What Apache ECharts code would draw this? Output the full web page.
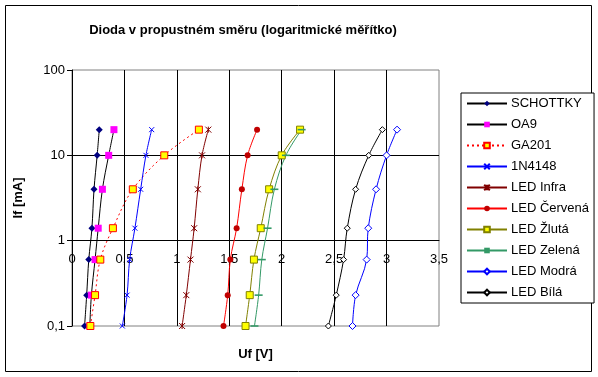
<!DOCTYPE html>
<html>
<head>
<meta charset="utf-8">
<script src="https://cdn.jsdelivr.net/npm/echarts@6/dist/echarts.min.js"></script>
<style>
  html, body { margin: 0; padding: 0; background: #fff; }
  #chart { width: 598px; height: 377px; }
</style>
</head>
<body>
<div id="chart"></div>
<script>
// proud If [mA] - stejne body pro vsechny diody
const proud = [0.1, 0.23, 0.6, 1.4, 4, 10, 20]

// napeti Uf [V]
const schottky = [0.12, 0.14, 0.16, 0.19, 0.21, 0.24, 0.26]
const oa9 = [0.17, 0.185, 0.22, 0.25, 0.29, 0.35, 0.4]
const ga201 = [0.175, 0.22, 0.27, 0.39, 0.58, 0.88, 1.21]
const n4148 = [0.48, 0.525, 0.55, 0.6, 0.655, 0.705, 0.76]
const ledInfra = [1.05, 1.09, 1.13, 1.165, 1.2, 1.24, 1.3]
const ledCervena = [1.445, 1.485, 1.51, 1.57, 1.62, 1.675, 1.765]
const ledZluta = [1.655, 1.695, 1.735, 1.8, 1.88, 2.0, 2.175]
const ledZelena = [1.74, 1.78, 1.81, 1.865, 1.93, 2.04, 2.19]
const ledModra = [2.675, 2.705, 2.81, 2.825, 2.9, 3.0, 3.1]
const ledBila = [2.445, 2.52, 2.59, 2.625, 2.705, 2.83, 2.96]

const xTicks = [0, 0.5, 1, 1.5, 2, 2.5, 3, 3.5]

const FONT = '"Liberation Sans", Arial, sans-serif'
const grid = { left: 72, top: 70, width: 367, height: 256 }

function pary(napeti) {
  return napeti.map((u, i) => [u, proud[i]])
}

function carka(v) {
  return String(v).replace('.', ',')
}

// jedna rada grafu
function rada(name, data, line, sym) {
  return {
    name: name,
    type: 'line',
    smooth: 0.35,
    data: pary(data),
    symbol: sym.symbol,
    symbolSize: sym.size,
    symbolKeepAspect: !!sym.keep,
    lineStyle: { color: line, width: 1, type: sym.dash || 'solid' },
    itemStyle: {
      color: sym.fill,
      borderColor: sym.border || sym.fill,
      borderWidth: sym.borderWidth == null ? 1 : sym.borderWidth,
    },
    emphasis: { disabled: true },
    z: 3,
  }
}

const chart = echarts.init(document.getElementById('chart'), null, { renderer: 'canvas' })

chart.setOption({
  animation: false,
  backgroundColor: '#fff',
  title: {
    text: 'Dioda v propustném směru (logaritmické měřítko)',
    left: 238,
    top: 19,
    textAlign: 'center',
    textStyle: { fontFamily: FONT, fontSize: 13, fontWeight: 'bold', color: '#000' },
  },
  graphic: [
    {
      type: 'rect',
      shape: { x: 5.5, y: 5.5, width: 586, height: 366 },
      style: { fill: 'none', stroke: '#000', lineWidth: 1 },
      silent: true,
    },
  ],
  grid: Object.assign({
    show: true,
    borderColor: '#808080',
    borderWidth: 1,
    backgroundColor: '#fff',
    outerBoundsMode: 'none',
    containLabel: false,
  }, grid),
  legend: {
    orient: 'vertical',
    left: 461,
    top: 93,
    padding: [3, 5, 3, 5],
    itemGap: 6,
    itemWidth: 40,
    itemHeight: 7,
    borderColor: '#000',
    borderWidth: 1,
    backgroundColor: '#fff',
    selectedMode: false,
    textStyle: { fontFamily: FONT, fontSize: 13, color: '#000', lineHeight: 15, padding: [0, 0, 0, -1] },
  },
  xAxis: {
    type: 'value',
    min: 0,
    max: 3.5,
    interval: 0.5,
    position: 'bottom',
    offset: -grid.height / 3,
    name: 'Uf [V]',
    nameLocation: 'middle',
    nameGap: 107,
    nameTextStyle: { fontFamily: FONT, fontSize: 13, fontWeight: 'bold', color: '#000' },
    axisLine: { show: true, onZero: false, lineStyle: { color: '#000', width: 1 } },
    axisTick: { show: false },
    axisLabel: {
      margin: 12,
      fontFamily: FONT,
      fontSize: 13,
      color: '#000',
      formatter: (v) => (xTicks.indexOf(v) >= 0 ? carka(v) : ''),
    },
    splitLine: { show: true, showMinLine: false, showMaxLine: false, lineStyle: { color: '#000', width: 1 } },
  },
  yAxis: {
    type: 'log',
    logBase: 10,
    min: 0.1,
    max: 100,
    name: 'If [mA]',
    nameLocation: 'middle',
    nameGap: 47,
    nameRotate: 90,
    nameTextStyle: { fontFamily: FONT, fontSize: 13, fontWeight: 'bold', color: '#000' },
    axisLine: { show: true, onZero: false, lineStyle: { color: '#000', width: 1 } },
    axisTick: { show: true, inside: false, length: 5, lineStyle: { color: '#000' } },
    axisLabel: {
      margin: 7,
      fontFamily: FONT,
      fontSize: 13,
      color: '#000',
      formatter: (v) => carka(+v.toPrecision(3)),
    },
    splitLine: { show: true, showMinLine: false, showMaxLine: false, lineStyle: { color: '#000', width: 1 } },
  },
  series: [
    rada('SCHOTTKY', schottky, '#000000', { symbol: 'diamond', size: 7, fill: '#000080', borderWidth: 0 }),
    rada('OA9', oa9, '#000000', { symbol: 'rect', size: 7, fill: '#FF00FF', borderWidth: 0 }),
    rada('GA201', ga201, '#FF0000', { symbol: 'rect', size: 7, fill: '#FFFF00', border: '#FF0000', dash: [2, 3] }),
    rada('1N4148', n4148, '#0000FF', { symbol: 'path://M0,0L10,10M10,0L0,10', size: 5, fill: 'none', border: '#0000FF' }),
    rada('LED Infra', ledInfra, '#800000', { symbol: 'path://M0,0L10,10M10,0L0,10M5,0L5,10', size: 6, fill: 'none', border: '#800000' }),
    rada('LED Červená', ledCervena, '#FF0000', { symbol: 'circle', size: 6, fill: '#C00000', borderWidth: 0 }),
    rada('LED Žlutá', ledZluta, '#808000', { symbol: 'rect', size: 7, fill: '#FFFF00', border: '#808000' }),
    rada('LED Zelená', ledZelena, '#339966', { symbol: 'path://M0,0L10,0L10,2L0,2Z', size: 8, keep: true, fill: '#339966', borderWidth: 0 }),
    rada('LED Modrá', ledModra, '#0000FF', { symbol: 'diamond', size: 7, fill: '#FFFFFF', border: '#0000FF' }),
    rada('LED Bílá', ledBila, '#000000', { symbol: 'diamond', size: 6, fill: '#FFFFFF', border: '#000000' }),
  ],
})
</script>
</body>
</html>
